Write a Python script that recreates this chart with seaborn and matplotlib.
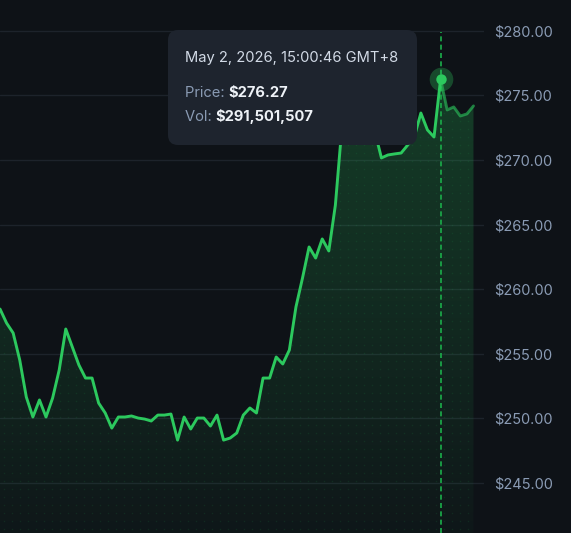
import numpy as np
import pandas as pd
import matplotlib
matplotlib.use("Agg")
import matplotlib.pyplot as plt
from matplotlib.patches import FancyBboxPatch, Polygon
from matplotlib.text import Annotation
from matplotlib.transforms import IdentityTransform
from matplotlib.ticker import FixedLocator, FuncFormatter
import seaborn as sns

# price series (one point per tick)
prices = [
    258.45, 257.36, 256.59, 254.50, 251.63, 250.08, 251.40, 250.08, 251.55, 253.72,
    256.90, 255.50, 254.11, 253.10, 253.10, 251.16, 250.39, 249.22, 250.08, 250.08,
    250.16, 250.00, 249.92, 249.77, 250.23, 250.23, 250.31, 248.29, 250.08, 249.15,
    250.00, 250.00, 249.38, 250.23, 248.29, 248.45, 248.84, 250.23, 250.78, 250.39,
    253.10, 253.10, 254.73, 254.19, 255.27, 258.60, 260.85, 263.26, 262.40, 263.88,
    262.95, 266.51, 272.60, 273.80, 274.40, 273.90, 274.60, 272.20, 270.16, 270.39,
    270.47, 270.54, 271.16, 271.78, 273.64, 272.33, 271.78, 276.27, 273.88, 274.11,
    273.41, 273.57, 274.19,
]
hover_idx = 67
hover_time = "May 2, 2026, 15:00:46 GMT+8"
hover_price = "$276.27"
hover_vol = "$291,501,507"
y_ticks = [245, 250, 255, 260, 265, 270, 275, 280]

BG = "#0e1217"
GREEN = "#2cc95e"
GRID = "#1d232b"
TICK = "#8a9bb4"
TIP_BG = "#1e242e"

df = pd.DataFrame({"idx": np.arange(len(prices)), "price": prices})

sns.set_theme(style="dark", rc={
    "axes.facecolor": BG, "figure.facecolor": BG,
    "lines.scale_dashes": False,
})
plt.rcParams["font.family"] = ["Inter", "DejaVu Sans"]

W, H = 571, 533
fig = plt.figure(figsize=(W / 100, H / 100), dpi=100)
ax = fig.add_axes([0, 0, 484 / W, 1])

ylo, yhi = 241.09, 282.40
xmax = 73.6
ax.set_xlim(0, xmax)
ax.set_ylim(ylo, yhi)

# gradient area under the line, clipped to the polygon
verts = [(0, ylo)] + list(zip(df["idx"], df["price"])) + [(df["idx"].iloc[-1], ylo)]
poly = Polygon(verts, closed=True, facecolor="none", edgecolor="none")
ax.add_patch(poly)
rgb = matplotlib.colors.to_rgb(GREEN)
grad = np.zeros((256, 1, 4))
grad[:, 0, :3] = rgb
grad[:, 0, 3] = np.linspace(0.03, 0.24, 256)
im = ax.imshow(grad, extent=(0, df["idx"].iloc[-1], ylo, max(prices)),
               origin="lower", aspect="auto", zorder=1)
im.set_clip_path(poly)

# faint dot texture inside the area
gx, gy = np.meshgrid(np.arange(0.6, xmax, 8 / 6.576), np.arange(ylo + 0.3, yhi, 8 / 12.9))
dots = ax.scatter(gx.ravel(), gy.ravel(), s=1.2, color=GREEN, alpha=0.10,
                  linewidths=0, zorder=1.5)
dots.set_clip_path(poly)

# grid lines
for t in y_ticks:
    ax.axhline(t, color=GRID, lw=1.0, zorder=0.5)

# line: bright up to hover, dimmer after
sns.lineplot(data=df[df["idx"] <= hover_idx], x="idx", y="price", ax=ax,
             color=GREEN, lw=2.1, zorder=3)
sns.lineplot(data=df[df["idx"] >= hover_idx], x="idx", y="price", ax=ax,
             color=GREEN, lw=2.1, alpha=0.6, zorder=3)

# crosshair + hover marker
hp = df["price"].iloc[hover_idx]
ax.axvline(hover_idx, ymin=0, ymax=(280 - ylo) / (yhi - ylo) - 0.002,
           color="#1aa447", lw=1.3, ls=(0, (3.6, 2.4)), zorder=2)
ax.plot([hover_idx], [hp], "o", ms=17, color=GREEN, alpha=0.3, mec="none", zorder=4)
ax.plot([hover_idx], [hp], "o", ms=7.5, color=GREEN, mec="none", zorder=5)

# axes styling
ax.yaxis.tick_right()
ax.yaxis.set_major_locator(FixedLocator(y_ticks))
ax.yaxis.set_major_formatter(FuncFormatter(lambda v, p: "\\$%.2f" % v))
ax.tick_params(axis="y", length=0, pad=7.5, labelsize=10.5, labelcolor=TICK)
ax.set_xticks([])
ax.set_xlabel("")
ax.set_ylabel("")
ax.grid(False)
for s in ax.spines.values():
    s.set_visible(False)

# tooltip box (pixel coordinates, origin bottom-left)
ident = IdentityTransform()
tip = FancyBboxPatch((168, H - 145), 249, 115,
                     boxstyle="round,pad=0,rounding_size=10",
                     transform=ident, facecolor=TIP_BG, edgecolor="none", zorder=10)
fig.add_artist(tip)
fs = 10.6
fig.text(185, H - 58, hover_time, transform=ident, fontsize=fs, color="#d2dae6",
         va="center", ha="left", zorder=11)
t1 = fig.text(185, H - 93, "Price: ", transform=ident, fontsize=fs, color=TICK,
              va="center", ha="left", zorder=11)
t2 = fig.text(185, H - 117, "Vol: ", transform=ident, fontsize=fs, color=TICK,
              va="center", ha="left", zorder=11)
for anchor, val in [(t1, hover_price), (t2, hover_vol)]:
    ann = Annotation("\\" + val, xy=(1, 0.5), xycoords=anchor, va="center", ha="left",
                     fontsize=fs, fontweight="bold", color="#eef2f7")
    ann.set_zorder(11)
    fig.add_artist(ann)

fig.savefig("out.png", dpi=100, facecolor=BG)
